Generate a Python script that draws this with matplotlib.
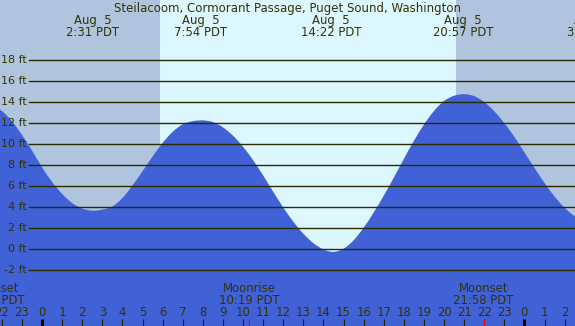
import matplotlib
matplotlib.use("Agg")
import matplotlib.pyplot as plt
import matplotlib.transforms as mtransforms
from matplotlib.path import Path
from matplotlib.patches import PathPatch

# ---------------- data ----------------
title = "Steilacoom, Cormorant Passage, Puget Sound, Washington"

# tide height (ft), every half hour (hours relative to Aug 5 00:00)
tide_hours = [-2.5, -2.0, -1.5, -1.0, -0.5, 0.0, 0.5, 1.0, 1.5, 2.0, 2.5, 3.0,
              3.5, 4.0, 4.5, 5.0, 5.5, 6.0, 6.5, 7.0, 7.5, 8.0, 8.5, 9.0,
              9.5, 10.0, 10.5, 11.0, 11.5, 12.0, 12.5, 13.0, 13.5, 14.0, 14.5, 15.0,
              15.5, 16.0, 16.5, 17.0, 17.5, 18.0, 18.5, 19.0, 19.5, 20.0, 20.5, 21.0,
              21.5, 22.0, 22.5, 23.0, 23.5, 24.0, 24.5, 25.0, 25.5, 26.0, 26.5, 27.0]
tide_ft = [13.8, 13.18, 12.22, 10.9, 9.42, 7.82, 6.42, 5.28, 4.41, 3.88, 3.68, 3.78,
           4.08, 4.88, 6.08, 7.43, 8.83, 10.13, 11.18, 11.9, 12.2, 12.28, 12.12, 11.62,
           10.82, 9.77, 8.49, 7.04, 5.49, 3.99, 2.64, 1.49, 0.59, -0.01, -0.25, 0.05,
           0.85, 2.05, 3.5, 5.1, 6.82, 8.6, 10.32, 11.87, 13.17, 14.12, 14.62, 14.77,
           14.59, 14.03, 13.15, 12.02, 10.71, 9.24, 7.75, 6.32, 5.03, 3.96, 3.16, 2.72]

# high / low tide labels
ext_dates = ["Aug  5", "Aug  5", "Aug  5", "Aug  5", "Aug  6"]
ext_times = ["2:31", "7:54", "14:22", "20:57", "3:25"]
ext_dayoff = [0, 0, 0, 0, 24]

# sun (day shading) and moon events
sunrise_h = 5.87
sunset_h = 20.6
moon_names = ["Moonset", "Moonrise", "Moonset"]
moon_times = ["21:37", "10:19", "21:58"]
moon_dayoff = [-24, 0, 0]

y_ticks = [18, 16, 14, 12, 10, 8, 6, 4, 2, 0, -2]
hour_ticks = list(range(-2, 27))
hour_labels = [str(h % 24) for h in hour_ticks]

# ---------------- style ----------------
W, H = 575, 326
night_c = "#b0c4de"
day_c = "#ddf7ff"
water_c = "#4161d6"
text_c = "#333300"
font = "DejaVu Sans"
fs = 8.4
fs_title = 8.5
fs_y = 8.0

x0_px, px_per_h = 42.0, 20.1
y0_px, px_per_ft = 249.3, 10.5
xlim = (-x0_px / px_per_h, (W - x0_px) / px_per_h)
ylim = (-(H - y0_px) / px_per_ft, y0_px / px_per_ft)

fig = plt.figure(figsize=(W / 100, H / 100), dpi=100)
ax = fig.add_axes([0, 0, 1, 1])
ax.set_xlim(*xlim)
ax.set_ylim(*ylim)
ax.axis("off")
fig.patch.set_facecolor(night_c)

def hm(s):
    h, m = s.split(":")
    return int(h) + int(m) / 60.0

def fy(ypix):
    return 1 - ypix / H

tr = mtransforms.blended_transform_factory(ax.transData, fig.transFigure)

# background
ax.axvspan(xlim[0], xlim[1], color=night_c, zorder=0, lw=0)
ax.axvspan(sunrise_h, sunset_h, color=day_c, zorder=1, lw=0)

# water: smooth (Catmull-Rom as cubic Bezier) path through the read points
base = ylim[0] - 1
verts = [(tide_hours[0], base), (tide_hours[0], tide_ft[0])]
codes = [Path.MOVETO, Path.LINETO]
n = len(tide_hours)
for i in range(n - 1):
    p0 = (tide_hours[max(i - 1, 0)], tide_ft[max(i - 1, 0)])
    p1 = (tide_hours[i], tide_ft[i])
    p2 = (tide_hours[i + 1], tide_ft[i + 1])
    p3 = (tide_hours[min(i + 2, n - 1)], tide_ft[min(i + 2, n - 1)])
    c1 = (p1[0] + (p2[0] - p0[0]) / 6, p1[1] + (p2[1] - p0[1]) / 6)
    c2 = (p2[0] - (p3[0] - p1[0]) / 6, p2[1] - (p3[1] - p1[1]) / 6)
    verts += [c1, c2, p2]
    codes += [Path.CURVE4] * 3
verts += [(tide_hours[-1], base), (tide_hours[0], base)]
codes += [Path.LINETO, Path.CLOSEPOLY]
ax.add_patch(PathPatch(Path(verts, codes), facecolor=water_c, edgecolor="none",
                       zorder=2))

# grid lines and labels
for v in y_ticks:
    ax.axhline(v, xmin=29 / W, xmax=1, color="#2b2b00", lw=1.0, zorder=3)
    ax.text(27 / W, fy(y0_px - v * px_per_ft - 0.3), f"{v} ft", transform=fig.transFigure,
            ha="right", va="center", color=text_c, fontsize=fs_y, family=font, zorder=4)

# title
fig.text(0.5, fy(12.3), title, ha="center", va="baseline", color=text_c,
         fontsize=fs_title, family=font)

# tide extreme labels
for d, t, off in zip(ext_dates, ext_times, ext_dayoff):
    x = hm(t) + off
    ax.text(x, fy(24.3), d, transform=tr, ha="center", va="baseline", color=text_c,
            fontsize=fs, family=font, zorder=5)
    ax.text(x, fy(36), f"{t} PDT", transform=tr, ha="center", va="baseline",
            color=text_c, fontsize=fs, family=font, zorder=5)

# moon labels
for nme, t, off in zip(moon_names, moon_times, moon_dayoff):
    x = hm(t) + off
    ax.text(x, fy(292), nme, transform=tr, ha="center", va="baseline", color=text_c,
            fontsize=fs, family=font, zorder=5)
    ax.text(x, fy(304.3), f"{t} PDT", transform=tr, ha="center", va="baseline",
            color=text_c, fontsize=fs, family=font, zorder=5)

# hour labels and ticks
for h, lab in zip(hour_ticks, hour_labels):
    ax.text(h, fy(316), lab, transform=tr, ha="center", va="baseline", color=text_c,
            fontsize=fs, family=font, zorder=5)
    if h % 24 == 0:
        ax.plot([h, h], [fy(319), fy(326)], transform=tr, color="black", lw=2.2,
                solid_capstyle="butt", zorder=5)
    else:
        ax.plot([h, h], [fy(319), fy(326)], transform=tr, color="#222200", lw=0.8,
                solid_capstyle="butt", zorder=5)
for t, off in zip(moon_times, moon_dayoff):
    x = hm(t) + off
    ax.plot([x, x], [fy(319), fy(326)], transform=tr, color="red", lw=0.8,
            solid_capstyle="butt", zorder=6)

fig.savefig("out.png", dpi=100, facecolor=night_c)
